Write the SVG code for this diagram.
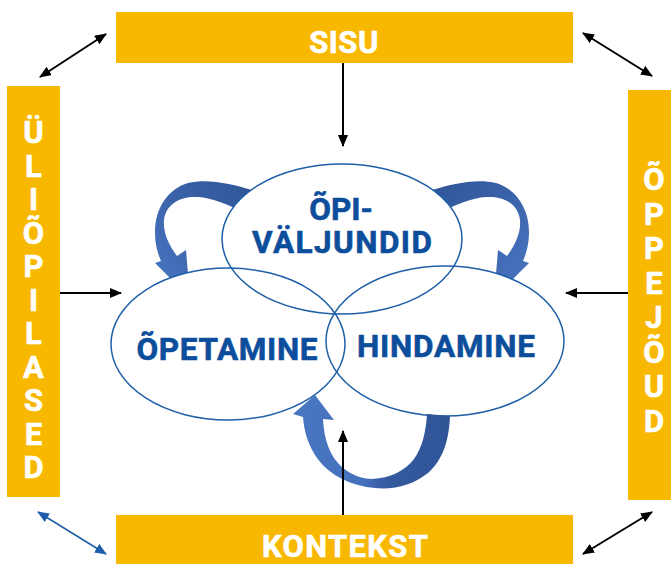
<svg xmlns="http://www.w3.org/2000/svg" width="671" height="564" viewBox="0 0 671 564">
  <defs>
    <style>
      .box { fill: #F9B800; }
      .boxtxt { font-family: Roboto, "Liberation Sans", sans-serif; font-weight: 700; font-size: 31px; fill: #FFFFFF; stroke: #FFFFFF; stroke-width: 0.6; text-anchor: middle; }
      .ell-fill { fill: #FFFFFF; stroke: none; }
      .ell-line { fill: none; stroke: #1E5FA8; stroke-width: 1.5; }
      .etxt { font-family: Roboto, "Liberation Sans", sans-serif; font-weight: 700; font-size: 31.5px; fill: #0C4E9B; stroke: #0C4E9B; stroke-width: 0.6; text-anchor: middle; }
      .link { stroke: #000000; stroke-width: 2; fill: none; }
      .link-blue { stroke: #1F5FAA; stroke-width: 1.6; fill: none; }
    </style>
    <marker id="ah" viewBox="0 0 12 10" refX="11" refY="5" markerWidth="12" markerHeight="10" markerUnits="userSpaceOnUse" orient="auto-start-reverse">
      <path d="M0,0 L12,5 L0,10 Z" fill="#000000"/>
    </marker>
    <marker id="ahb" viewBox="0 0 12 10" refX="11" refY="5" markerWidth="12" markerHeight="10" markerUnits="userSpaceOnUse" orient="auto-start-reverse">
      <path d="M0,0 L12,5 L0,10 Z" fill="#1F5FAA"/>
    </marker>
    <linearGradient id="gArc" x1="1" y1="0" x2="0" y2="1">
      <stop offset="0" stop-color="#2F5597"/>
      <stop offset="0.45" stop-color="#3A62A8"/>
      <stop offset="1" stop-color="#4A78C4"/>
    </linearGradient>
    <linearGradient id="gLoop" x1="0" y1="0" x2="1" y2="0">
      <stop offset="0" stop-color="#4A77C2"/>
      <stop offset="0.45" stop-color="#4470BC"/>
      <stop offset="0.6" stop-color="#35599E"/>
      <stop offset="1" stop-color="#2F5597"/>
    </linearGradient>
    <!-- curved flow arrow from the top ellipse down to the left ellipse -->
    <path id="arc" d="M252,190 C232,184 208,178 188,183 C168,189 155,208 155,232 C155,245 158,254 161,261 L155,263 L190,298 L186,250 L177,256 C168,244 163,232 164,220 C166,204 180,196 198,197 C212,198 228,204 246,214 Z"/>
  </defs>

  <!-- curved flows between the learning ellipses (ends hidden under the ellipse fills) -->
  <g id="flows-top">
    <use href="#arc" fill="url(#gArc)"/>
    <use href="#arc" fill="url(#gArc)" transform="translate(684,0) scale(-1,1)"/>
  </g>

  <!-- ellipse fills first, outlines after so all three outlines stay visible -->
  <g id="ellipse-fills">
    <ellipse class="ell-fill" cx="342" cy="239" rx="120" ry="75"/>
    <ellipse class="ell-fill" cx="228" cy="344" rx="117" ry="76"/>
    <ellipse class="ell-fill" cx="445" cy="341" rx="119" ry="75"/>
  </g>

  <g id="opivaljundid">
    <ellipse class="ell-line" cx="342" cy="239" rx="120" ry="75"/>
    <text class="etxt" x="341" y="220">ÕPI-</text>
    <text class="etxt" x="342" y="253" textLength="180" lengthAdjust="spacing">VÄLJUNDID</text>
  </g>
  <g id="opetamine">
    <ellipse class="ell-line" cx="228" cy="344" rx="117" ry="76"/>
    <text class="etxt" x="227" y="360" textLength="181" lengthAdjust="spacing">ÕPETAMINE</text>
  </g>
  <g id="hindamine">
    <ellipse class="ell-line" cx="445" cy="341" rx="119" ry="75"/>
    <text class="etxt" x="446" y="357" textLength="178" lengthAdjust="spacing">HINDAMINE</text>
  </g>

  <!-- loop from HINDAMINE back up to ÕPETAMINE -->
  <g id="flow-bottom">
    <path fill="url(#gLoop)" d="M427,414 L450,416 C449,440 443,460 428,473 C413,485 394,490 375,488 C352,486 330,476 317,458 C308,445 304,431 303,417 L293,414 L315,395 L334,420 L323,419 C324,440 330,457 343,468 C352,475 362,479 372,479 C390,478 405,471 414,459 C422,448 426,432 427,414 Z"/>
  </g>

  <g id="sisu">
    <rect class="box" x="116" y="12" width="457" height="51"/>
    <text class="boxtxt" x="344" y="53" letter-spacing="0.5">SISU</text>
  </g>
  <g id="kontekst">
    <rect class="box" x="116" y="515" width="457" height="55"/>
    <text class="boxtxt" x="345" y="557" textLength="166" lengthAdjust="spacing">KONTEKST</text>
  </g>
  <g id="uliopilased">
    <rect class="box" x="7" y="86" width="53" height="411"/>
    <text class="boxtxt" x="33.5" y="143">Ü</text>
    <text class="boxtxt" x="33.5" y="176.5">L</text>
    <text class="boxtxt" x="33.5" y="210">I</text>
    <text class="boxtxt" x="33.5" y="243.5">Õ</text>
    <text class="boxtxt" x="33.5" y="277">P</text>
    <text class="boxtxt" x="33.5" y="310.5">I</text>
    <text class="boxtxt" x="33.5" y="344">L</text>
    <text class="boxtxt" x="33.5" y="377.5">A</text>
    <text class="boxtxt" x="33.5" y="411">S</text>
    <text class="boxtxt" x="33.5" y="444.5">E</text>
    <text class="boxtxt" x="33.5" y="478">D</text>
  </g>
  <g id="oppejoud">
    <rect class="box" x="628" y="90" width="53" height="410"/>
    <text class="boxtxt" x="654" y="190">Õ</text>
    <text class="boxtxt" x="654" y="224.6">P</text>
    <text class="boxtxt" x="654" y="259.1">P</text>
    <text class="boxtxt" x="654" y="293.7">E</text>
    <text class="boxtxt" x="654" y="328.3">J</text>
    <text class="boxtxt" x="654" y="362.9">Õ</text>
    <text class="boxtxt" x="654" y="397.4">U</text>
    <text class="boxtxt" x="654" y="432">D</text>
  </g>

  <g id="connectors">
    <line class="link" x1="343" y1="63" x2="343" y2="146" marker-end="url(#ah)"/>
    <line class="link" x1="343" y1="515" x2="343" y2="431" marker-end="url(#ah)"/>
    <line class="link" x1="60" y1="293" x2="121" y2="293" marker-end="url(#ah)"/>
    <line class="link" x1="628" y1="293" x2="566" y2="293" marker-end="url(#ah)"/>
    <line class="link" x1="40" y1="77" x2="106" y2="34" marker-start="url(#ah)" marker-end="url(#ah)"/>
    <line class="link" x1="583" y1="33" x2="652" y2="76" marker-start="url(#ah)" marker-end="url(#ah)"/>
    <line class="link-blue" x1="38" y1="512" x2="106" y2="554" marker-start="url(#ahb)" marker-end="url(#ahb)"/>
    <line class="link" x1="583" y1="554" x2="652" y2="512" marker-start="url(#ah)" marker-end="url(#ah)"/>
  </g>
</svg>
